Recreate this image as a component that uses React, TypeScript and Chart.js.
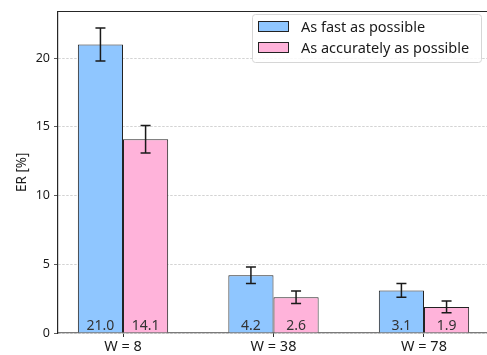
import React, { useEffect, useRef } from "react";
import { Chart, registerables } from "chart.js";

Chart.register(...registerables);

const categories = ["W = 8", "W = 38", "W = 78"];
const fastValues = [21.0, 4.2, 3.1];
const fastErrors = [1.2, 0.6, 0.5];
const accurateValues = [14.1, 2.6, 1.9];
const accurateErrors = [1.0, 0.45, 0.42];
const yTicks = [0, 5, 10, 15, 20];
const seriesNames = ["As fast as possible", "As accurately as possible"];

const FONT = "'Noto Sans', sans-serif";
const BLUE = "#8fc6ff";
const PINK = "#ffb3da";
const errorsByDataset = [fastErrors, accurateErrors];

const overlayPlugin = {
  id: "overlay",
  afterDatasetsDraw(chart: any) {
    const ctx = chart.ctx;
    const y = chart.scales.y;
    const area = chart.chartArea;
    ctx.save();
    chart.data.datasets.forEach((ds: any, di: number) => {
      const meta = chart.getDatasetMeta(di);
      meta.data.forEach((bar: any, i: number) => {
        const v = ds.data[i].y;
        const e = errorsByDataset[di][i];
        const cx = bar.x;
        const top = y.getPixelForValue(v + e);
        const bot = y.getPixelForValue(v - e);
        ctx.strokeStyle = "#1a1a1a";
        ctx.lineWidth = 1.5;
        ctx.beginPath();
        ctx.moveTo(cx, top);
        ctx.lineTo(cx, bot);
        ctx.moveTo(cx - 5, top);
        ctx.lineTo(cx + 5, top);
        ctx.moveTo(cx - 5, bot);
        ctx.lineTo(cx + 5, bot);
        ctx.stroke();
        ctx.fillStyle = "#333";
        ctx.font = `14px ${FONT}`;
        ctx.textAlign = "center";
        ctx.textBaseline = "alphabetic";
        ctx.fillText(v.toFixed(1), cx, area.bottom - 3);
      });
    });
    ctx.strokeStyle = "#262626";
    ctx.lineWidth = 1.2;
    ctx.beginPath();
    ctx.moveTo(area.left, area.top);
    ctx.lineTo(area.right + 2, area.top);
    ctx.stroke();
    const lx = 252, ly = 14, lw = 229, lh = 48;
    ctx.fillStyle = "rgba(255,255,255,0.85)";
    ctx.strokeStyle = "#d6d6d6";
    ctx.lineWidth = 1;
    ctx.beginPath();
    (ctx as any).roundRect(lx + 0.5, ly + 0.5, lw, lh, 3);
    ctx.fill();
    ctx.stroke();
    chart.data.datasets.forEach((ds: any, di: number) => {
      const sy = 21 + di * 21;
      ctx.fillStyle = ds.backgroundColor;
      ctx.fillRect(258, sy, 30, 10);
      ctx.strokeStyle = "#222";
      ctx.lineWidth = 1;
      ctx.strokeRect(258.5, sy + 0.5, 30, 10);
      ctx.fillStyle = "#1a1a1a";
      ctx.font = `14.5px ${FONT}`;
      ctx.textAlign = "left";
      ctx.textBaseline = "middle";
      ctx.fillText(seriesNames[di], 301, sy + 6.5);
    });
    ctx.restore();
  },
};

export default function App() {
  const ref = useRef<HTMLCanvasElement>(null);
  useEffect(() => {
    if (!ref.current) return;
    const chart = new Chart(ref.current, {
      type: "bar",
      data: {
        datasets: [
          {
            label: seriesNames[0],
            data: fastValues.map((v, i) => ({ x: i, y: v })),
            backgroundColor: BLUE,
            borderColor: "#222",
            borderWidth: 1,
            categoryPercentage: 0.6,
            barPercentage: 1,
          },
          {
            label: seriesNames[1],
            data: accurateValues.map((v, i) => ({ x: i, y: v })),
            backgroundColor: PINK,
            borderColor: "#222",
            borderWidth: 1,
            categoryPercentage: 0.6,
            barPercentage: 1,
          },
        ],
      },
      options: {
        animation: false,
        responsive: false,
        maintainAspectRatio: false,
        layout: { padding: { left: 0, top: 6, right: 6, bottom: 0 } },
        plugins: { legend: { display: false }, tooltip: { enabled: false } },
        scales: {
          x: {
            type: "linear",
            min: -0.432,
            max: 2.432,
            offset: false,
            grid: {
              display: true,
              drawOnChartArea: false,
              drawTicks: true,
              tickLength: 4,
              offset: false,
              color: "#333",
            },
            border: { display: true, color: "#7a7a7a", width: 1.2 },
            afterBuildTicks: (s: any) => {
              s.ticks = categories.map((_, i) => ({ value: i }));
            },
            afterFit: (s: any) => {
              s.height = 22;
            },
            ticks: {
              callback: (v: any) => categories[v] ?? "",
              color: "#1a1a1a",
              font: { family: FONT, size: 14.5 },
              padding: 1,
              maxRotation: 0,
              autoSkip: false,
            },
          },
          y: {
            min: 0,
            max: 23.4,
            afterBuildTicks: (s: any) => {
              s.ticks = yTicks.map((v) => ({ value: v }));
            },
            afterFit: (s: any) => {
              s.width = 58;
            },
            grid: {
              color: "#c8c8c8",
              lineWidth: 0.8,
              tickBorderDash: [],
              tickColor: "#333",
              tickLength: 4,
              drawTicks: true,
            },
            border: { display: true, color: "#262626", width: 1.2, dash: [2.5, 1.5] },
            ticks: {
              color: "#1a1a1a",
              font: { family: FONT, size: 12.5 },
              padding: 4,
            },
            title: {
              display: true,
              text: "ER [%]",
              color: "#1a1a1a",
              font: { family: FONT, size: 13.5 },
              padding: { top: 14, bottom: 0 },
            },
          },
        },
      },
      plugins: [overlayPlugin],
    });
    return () => chart.destroy();
  }, []);
  return (
    <div style={{ position: "fixed", left: 0, top: 0, width: 487, height: 355, overflow: "hidden", background: "#fff" }}>
      <canvas ref={ref} width={495} height={355} style={{ width: 495, height: 355, display: "block" }} />
    </div>
  );
}
